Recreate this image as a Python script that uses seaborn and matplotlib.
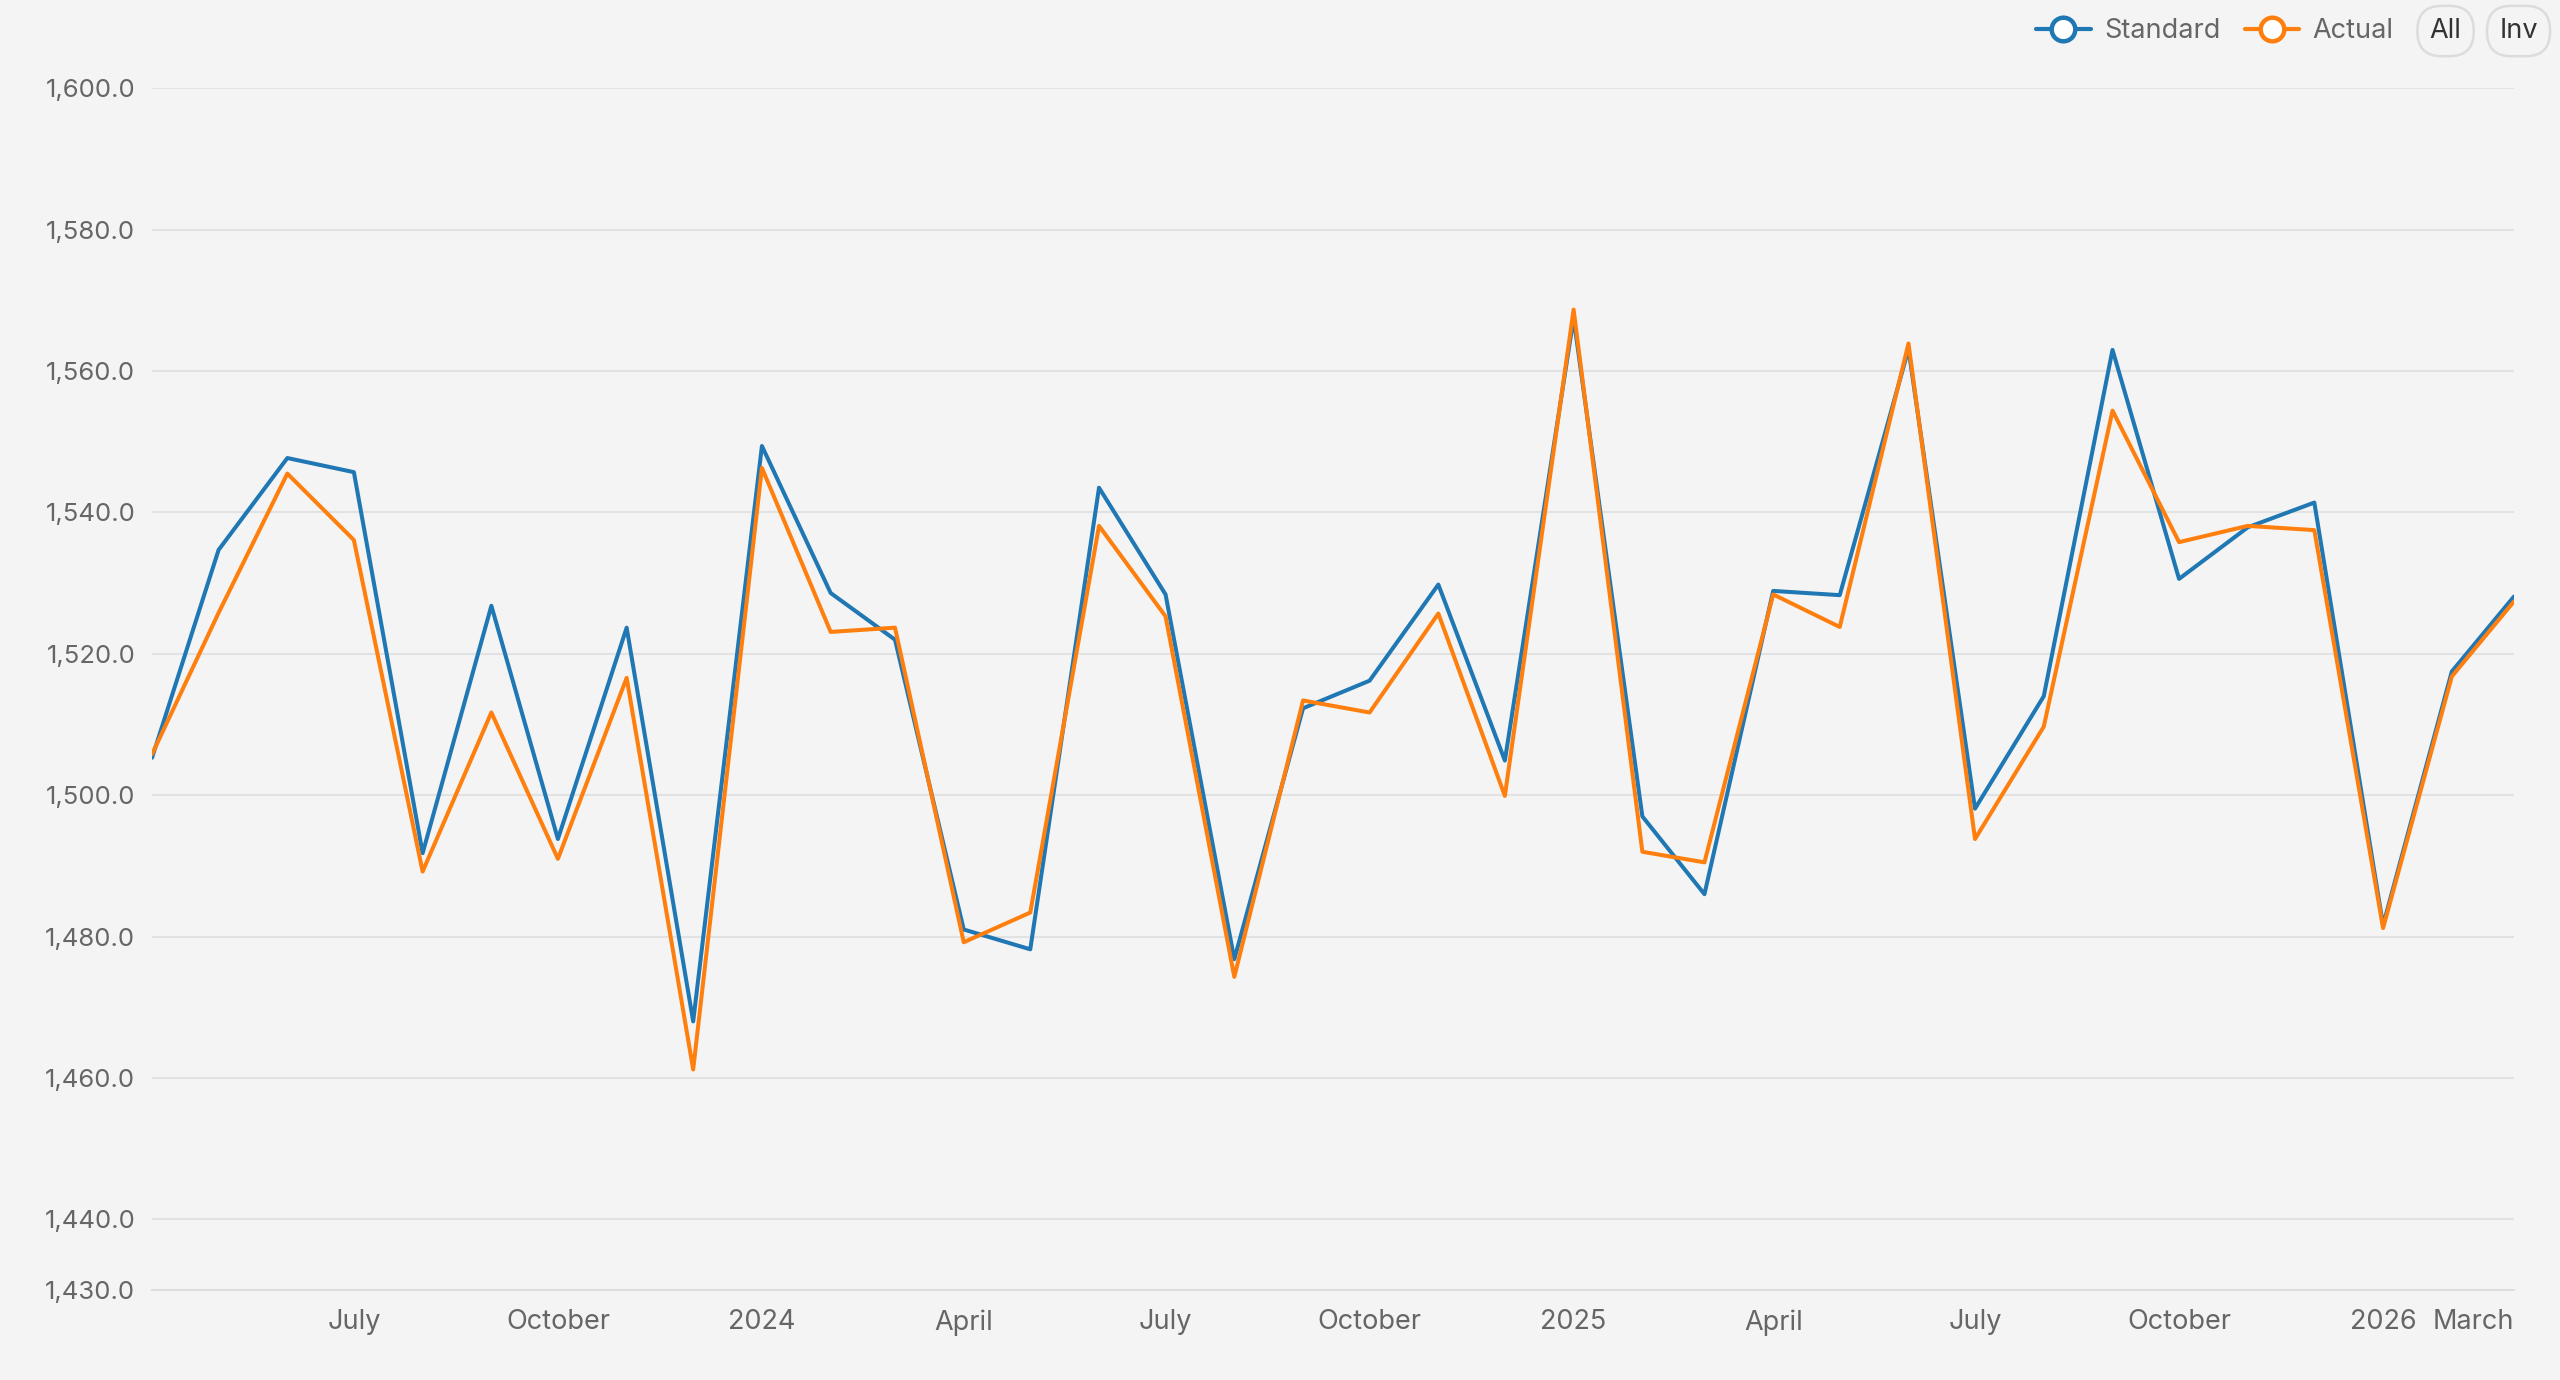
import matplotlib

matplotlib.use("Agg")
import matplotlib.pyplot as plt
import pandas as pd
import seaborn as sns
from matplotlib.lines import Line2D
from matplotlib.ticker import FuncFormatter

# monthly values, April 2023 .. March 2026
months = pd.date_range("2023-04-01", periods=36, freq="MS")
standard = [
    1505.3, 1534.7, 1547.7, 1545.7, 1491.8, 1526.8, 1493.8, 1523.7, 1468.0,
    1549.4, 1528.6, 1522.0, 1481.0, 1478.2, 1543.5, 1528.4, 1476.8, 1512.3,
    1516.2, 1529.8, 1504.9, 1567.5, 1497.0, 1486.0, 1528.9, 1528.3, 1563.1,
    1498.1, 1514.0, 1563.0, 1530.6, 1537.9, 1541.4, 1481.6, 1517.5, 1528.1,
]
actual = [
    1505.8, 1525.8, 1545.5, 1536.1, 1489.2, 1511.7, 1491.0, 1516.6, 1461.2,
    1546.3, 1523.1, 1523.7, 1479.2, 1483.4, 1538.1, 1525.3, 1474.3, 1513.4,
    1511.7, 1525.7, 1499.9, 1568.7, 1492.0, 1490.5, 1528.4, 1523.8, 1563.9,
    1493.8, 1509.7, 1554.4, 1535.8, 1538.1, 1537.5, 1481.2, 1516.8, 1527.4,
]
series_names = ["Standard", "Actual"]
colors = ["#1f77b4", "#ff7f0e"]

tick_dates = pd.to_datetime([
    "2023-04-01", "2023-07-01", "2023-10-01", "2024-01-01", "2024-04-01",
    "2024-07-01", "2024-10-01", "2025-01-01", "2025-04-01", "2025-07-01",
    "2025-10-01", "2026-01-01", "2026-03-01",
])
tick_labels = ["", "July", "October", "2024", "April", "July", "October",
               "2025", "April", "July", "October", "2026", "March"]
y_ticks = [1430, 1440, 1460, 1480, 1500, 1520, 1540, 1560, 1580, 1600]

df = pd.DataFrame({
    "month": list(months) * 2,
    "value": standard + actual,
    "series": ["Standard"] * len(months) + ["Actual"] * len(months),
})

sns.set_style("white")
plt.rcParams["font.family"] = ["Inter", "DejaVu Sans"]
bg = "#f4f4f4"
text_color = "#666666"

fig = plt.figure(figsize=(25.6, 13.8), dpi=100, facecolor=bg)
ax = fig.add_axes([0.0594, 0.0652, 0.9226, 0.8708])
ax.set_facecolor(bg)

sns.lineplot(data=df, x="month", y="value", hue="series",
             hue_order=series_names, palette=colors, linewidth=2.9,
             legend=False, ax=ax)

ax.set_xlim(months[0], months[-1])
ax.set_ylim(1430, 1600)
ax.set_yticks(y_ticks)
ax.yaxis.set_major_formatter(FuncFormatter(lambda v, p: f"{v:,.1f}"))
ax.set_xticks(tick_dates)
ax.set_xticklabels(tick_labels)
ax.get_xticklabels()[-1].set_horizontalalignment("right")
ax.grid(axis="y", color="#e2e2e2", linewidth=1.5)
ax.set_axisbelow(True)
ax.set_xlabel("")
ax.set_ylabel("")

for side in ["top", "right", "left"]:
    ax.spines[side].set_visible(False)
ax.spines["bottom"].set_color("#dddddd")
ax.spines["bottom"].set_linewidth(1.5)
ax.tick_params(axis="y", length=0, pad=12, labelsize=18.5, labelcolor=text_color)
ax.tick_params(axis="x", length=7, width=1.2, color="#dddddd", pad=7,
               labelsize=19.5, labelcolor=text_color)

handles = [
    Line2D([], [], color=c, linewidth=3, marker="o", markersize=17,
           markerfacecolor="white", markeredgewidth=3.2)
    for c in colors
]
fig.legend(handles, series_names, loc="center right",
           bbox_to_anchor=(0.9445, 0.9775), ncol=2, frameon=False,
           fontsize=19.5, labelcolor=text_color, handlelength=2.0,
           handletextpad=0.5, columnspacing=0.9)

for label, xpos in [("All", 0.9553), ("Inv", 0.9838)]:
    fig.text(xpos, 0.9775, label, ha="center", va="center", fontsize=19.5,
             color="#333333",
             bbox=dict(boxstyle="round,pad=0.45,rounding_size=0.9",
                       facecolor=bg, edgecolor="#dcdcdc", linewidth=1.8))

fig.savefig("out.png", dpi=100, facecolor=bg)
